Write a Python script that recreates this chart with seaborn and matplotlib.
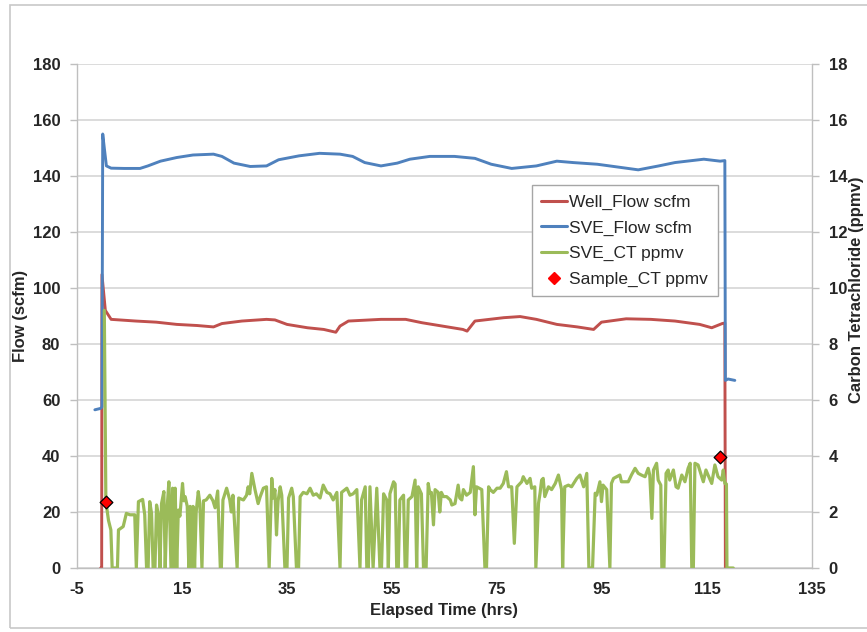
import matplotlib
matplotlib.use("Agg")
import matplotlib.pyplot as plt
from matplotlib.lines import Line2D
from matplotlib.patches import Rectangle
import pandas as pd
import seaborn as sns

# Well flow (scfm) vs elapsed time (hrs)
well_time = [-0.5, -0.3, -0.25, 0.4, 1.5, 6.2, 10.1, 14.0, 17.9, 21.0, 22.6, 26.4, 31.1,
             32.7, 35.0, 38.9, 42.0, 44.3, 45.1, 46.7, 52.9, 57.6, 60.7, 64.6, 68.5, 69.3,
             70.8, 76.3, 79.4, 82.5, 86.4, 90.3, 93.4, 94.9, 99.6, 104.3, 108.9, 113.6,
             115.9, 117.9, 118.4, 118.5]
well_flow = [0, 0, 104.8, 92.0, 88.8, 88.2, 87.8, 87.0, 86.6, 86.1, 87.3, 88.2, 88.8,
             88.6, 87.0, 85.8, 85.2, 84.2, 86.4, 88.2, 88.8, 88.8, 87.6, 86.4, 85.2, 84.6,
             88.2, 89.4, 89.8, 88.8, 87.0, 86.1, 85.2, 87.8, 89.0, 88.8, 88.2, 87.0,
             85.8, 87.3, 87.5, 0]

# SVE flow (scfm)
sve_time = [-1.6, -0.5, -0.25, -0.1, 0.2, 0.6, 1.5, 4.0, 7.0, 8.5, 10.9, 14.0, 17.1,
            21.0, 22.6, 24.9, 28.0, 31.1, 33.4, 37.3, 41.2, 45.1, 47.5, 49.8, 52.9, 56.0,
            58.4, 62.2, 66.9, 70.8, 73.9, 77.8, 82.5, 86.4, 89.5, 94.1, 98.8, 101.9,
            105.8, 108.9, 114.4, 117.5, 118.4, 118.5, 119.0, 120.3]
sve_flow = [56.5, 57.0, 57.5, 155.0, 150.0, 143.6, 142.8, 142.7, 142.7, 143.6, 145.3,
            146.6, 147.5, 147.8, 147.0, 144.6, 143.4, 143.6, 145.8, 147.2, 148.1, 147.8,
            147.0, 144.8, 143.6, 144.6, 146.0, 147.0, 147.0, 146.3, 144.2, 142.7, 143.6,
            145.3, 144.8, 144.2, 143.0, 142.2, 143.6, 144.8, 146.0, 145.3, 145.5, 67.0,
            67.5, 67.0]

# SVE carbon tetrachloride (ppmv)
ct_time = [0.2, 0.5, 1.0, 1.45, 1.7, 2.7, 2.9, 3.8, 4.4, 5.1, 6.0, 6.3, 6.7, 7.5, 7.9,
           8.25, 8.55, 8.85, 9.2, 9.5, 9.85, 10.15, 10.5, 10.8, 11.1, 11.55, 11.8, 12.1,
           12.5, 12.9, 13.2, 13.45, 13.7, 14.0, 14.3, 14.6, 15.1, 15.35, 15.6, 16.0, 16.3,
           16.55, 16.8, 17.1, 17.4, 17.7, 18.1, 18.4, 18.8, 19.1, 19.6, 20.3, 20.9, 21.3,
           21.8, 22.3, 22.5, 22.8, 23.5, 24.1, 24.4, 24.7, 25.5, 25.8, 26.7, 27.3, 27.6,
           27.9, 28.3, 28.9, 29.5, 29.9, 30.5, 31.1, 31.6, 32.1, 32.4, 32.7, 33.0, 33.3,
           33.7, 34.0, 34.6, 35.0, 35.3, 35.9, 36.2, 36.8, 37.2, 37.5, 38.1, 38.8, 39.4,
           40.0, 40.6, 41.3, 41.9, 42.6, 43.2, 43.8, 44.5, 45.1, 45.4, 46.4, 47.0, 47.6,
           48.3, 48.9, 49.2, 49.9, 50.2, 50.5, 50.8, 51.4, 52.1, 52.7, 53.0, 53.4, 54.0,
           54.3, 54.6, 55.3, 55.6, 55.9, 56.2, 56.5, 57.2, 57.5, 57.8, 58.1, 58.8, 59.4,
           59.7, 60.0, 60.6, 61.0, 61.5, 61.9, 62.2, 62.5, 62.9, 63.2, 63.8, 64.1, 64.4,
           64.8, 65.4, 66.1, 66.4, 67.0, 67.6, 67.9, 68.3, 68.6, 69.2, 69.9, 70.5, 70.8,
           71.1, 72.1, 72.7, 73.0, 73.4, 73.7, 74.3, 75.0, 75.6, 76.2, 76.8, 77.2, 77.8,
           78.3, 78.8, 79.4, 79.7, 80.0, 80.7, 81.3, 81.6, 82.2, 82.4, 82.9, 83.2, 83.5,
           83.8, 84.1, 84.8, 85.4, 86.1, 86.7, 87.3, 87.5, 87.9, 88.6, 89.2, 90.2, 90.8,
           91.5, 92.1, 92.5, 93.2, 93.7, 94.0, 94.6, 94.9, 95.2, 95.9, 96.5, 96.8, 97.2,
           97.8, 98.4, 98.7, 99.4, 100.0, 100.6, 101.3, 101.9, 102.5, 103.2, 103.8, 104.1,
           104.5, 104.8, 105.4, 105.7, 106.2, 106.4, 106.8, 107.2, 107.6, 107.9, 108.6,
           109.1, 109.5, 110.2, 110.8, 111.4, 111.8, 112.1, 112.4, 112.7, 113.3, 114.3,
           114.8, 115.2, 115.9, 116.5, 117.1, 117.8, 118.1, 118.4, 118.7, 118.8, 120.0]
ct_ppmv = [9.2, 2.37, 1.7, 1.36, 0, 0, 1.36, 1.48, 1.95, 1.9, 1.9, 0, 2.37, 2.45, 1.9,
           0, 0, 2.37, 1.95, 0, 0, 2.25, 1.9, 0, 2.3, 2.73, 0, 1.95,
           3.08, 0, 2.85, 0, 2.85, 0, 2.07, 1.85, 3.02, 2.4, 2.55, 2.2, 0,
           2.2, 0, 2.2, 0, 2.0, 2.73, 2.3, 0, 2.4, 2.43, 2.6, 2.4, 2.15,
           2.75, 0, 0, 2.43, 2.85, 2.43, 2.0, 2.6, 0, 2.5, 2.43, 2.6, 2.9,
           2.65, 3.38, 2.8, 2.3, 2.55, 2.85, 2.9, 0, 3.2, 2.5, 2.8, 1.18, 2.4,
           2.9, 2.6, 0, 0, 2.5, 2.85, 2.55, 0, 0, 2.55, 2.7, 2.65, 2.85,
           2.6, 2.65, 2.5, 2.96, 2.7, 2.65, 2.43, 2.7, 0, 2.7, 2.85, 2.6, 2.65,
           2.8, 0, 2.43, 2.9, 0, 0, 2.9, 0, 2.85, 0, 0, 2.65, 2.43,
           0, 2.65, 3.08, 3.0, 0, 0, 2.43, 2.6, 0, 0, 2.43, 2.55, 3.14,
           0, 2.9, 2.65, 0, 0, 3.02, 2.67, 2.7, 1.54, 2.8, 2.7, 2.0, 2.7,
           2.55, 2.55, 2.43, 2.25, 2.3, 2.96, 2.5, 2.43, 2.8, 2.6, 2.7, 3.62, 1.9,
           2.9, 2.8, 0, 0, 2.9, 2.8, 2.7, 2.85, 2.85, 3.02, 3.44, 2.9, 2.9,
           0.88, 2.9, 3.02, 3.08, 3.26, 3.02, 3.2, 2.85, 2.9, 0, 2.3, 2.67, 3.14,
           3.2, 2.55, 2.9, 2.8, 3.02, 3.32, 2.8, 0, 2.9, 2.96, 2.9, 3.2, 3.32,
           2.9, 3.38, 0, 0, 2.67, 2.6, 3.08, 2.37, 2.96, 2.8, 0, 3.02, 3.2,
           3.26, 3.32, 3.08, 3.08, 3.08, 3.32, 3.56, 3.38, 3.32, 3.26, 3.56, 3.32,
           1.77, 3.5, 3.74, 3.14, 2.96, 0, 0, 3.38, 3.5, 3.14, 3.5,
           2.9, 2.85, 3.32, 3.08, 3.56, 3.74, 0, 0, 3.74, 3.68, 3.08,
           3.5, 3.32, 3.02, 3.68, 3.26, 3.14, 3.5, 3.02, 3.0, 0, 0]

# Grab samples (ppmv)
sample_time = [0.5, 117.4]
sample_ct = [2.37, 3.95]

RED = "#C0504D"
BLUE = "#4F81BD"
GREEN = "#9BBB59"
GRID = "#D9D9D9"
SPINE = "#BFBFBF"

well = pd.DataFrame({"time": well_time, "flow": well_flow})
sve = pd.DataFrame({"time": sve_time, "flow": sve_flow})
ct = pd.DataFrame({"time": ct_time, "ppmv": ct_ppmv})
samples = pd.DataFrame({"time": sample_time, "ppmv": sample_ct})

sns.set_theme(style="white")
plt.rcParams["font.family"] = ["Liberation Sans", "DejaVu Sans"]
plt.rcParams["axes.unicode_minus"] = False

W, H = 867, 632
fig = plt.figure(figsize=(W / 100, H / 100), dpi=100)
fig.patch.set_facecolor("white")
fig.patches.append(Rectangle((10 / W, 1 - 628 / H), 870 / W, 623 / H,
                             transform=fig.transFigure, fill=False,
                             edgecolor="#C8C8C8", linewidth=1.2))

left, right, top, bottom = 77, 812, 64, 568
ax = fig.add_axes([left / W, 1 - bottom / H, (right - left) / W, (bottom - top) / H])
ax2 = ax.twinx()

lw = 2.1
sns.lineplot(data=well, x="time", y="flow", ax=ax, color=RED, linewidth=lw,
             sort=False, estimator=None, legend=False)
sns.lineplot(data=sve, x="time", y="flow", ax=ax, color=BLUE, linewidth=lw,
             sort=False, estimator=None, legend=False)
sns.lineplot(data=ct, x="time", y="ppmv", ax=ax2, color=GREEN, linewidth=lw + 0.2,
             sort=False, estimator=None, legend=False)
sns.scatterplot(data=samples, x="time", y="ppmv", ax=ax2, marker="D", s=42,
                color="#FF0000", edgecolor="black", linewidth=0.9, zorder=5,
                legend=False)

ax.set_xlim(-5, 135)
ax.set_xticks(range(-5, 136, 20))
ax.set_ylim(0, 180)
ax.set_yticks(range(0, 181, 20))
ax2.set_ylim(0, 18)
ax2.set_yticks(range(0, 19, 2))

ax.grid(axis="y", color=GRID, linewidth=1.3)
ax.grid(axis="x", visible=False)
ax.set_axisbelow(True)
ax2.grid(False)

for a in (ax, ax2):
    for s in a.spines.values():
        s.set_color(SPINE)
        s.set_linewidth(1.0)
    a.spines["top"].set_visible(False)
ax.spines["right"].set_visible(False)
ax2.spines["left"].set_visible(False)
ax2.spines["bottom"].set_visible(False)

ax.tick_params(axis="both", direction="out", length=5, width=1, color=SPINE,
               pad=5, labelsize=12)
ax2.tick_params(axis="y", direction="out", length=5, width=1, color=SPINE,
                pad=7, labelsize=12)
ax.tick_params(axis="y", pad=7)
for lab in ax.get_xticklabels() + ax.get_yticklabels() + ax2.get_yticklabels():
    lab.set_fontweight("bold")

ax.set_xlabel("Elapsed Time (hrs)", fontsize=12, fontweight="bold")
ax.set_ylabel("Flow (scfm)", fontsize=12, fontweight="bold")
ax.xaxis.set_label_coords(0.5, -0.069)
ax.yaxis.set_label_coords(-0.066, 0.5)
ax2.set_ylabel("")
fig.text(856 / W, 1 - 290 / H, "Carbon Tetrachloride (ppmv)", rotation=90,
         ha="center", va="center", fontsize=12, fontweight="bold")

handles = [
    Line2D([], [], color=RED, linewidth=2.2),
    Line2D([], [], color=BLUE, linewidth=2.2),
    Line2D([], [], color=GREEN, linewidth=2.2),
    Line2D([], [], color="#FF0000", marker="D", linestyle="none", markersize=6.5),
]
labels = ["Well_Flow scfm", "SVE_Flow scfm", "SVE_CT ppmv", "Sample_CT ppmv"]
leg = ax2.legend(handles, labels, loc="upper right", bbox_to_anchor=(0.872, 0.76),
                 borderaxespad=0, frameon=True, fancybox=False, framealpha=1,
                 edgecolor="#A6A6A6", fontsize=12.5, handlelength=1.5,
                 handletextpad=0.12, borderpad=0.55, labelspacing=0.6)
leg.get_frame().set_linewidth(1.0)

fig.savefig("out.png", dpi=100, facecolor="white")
